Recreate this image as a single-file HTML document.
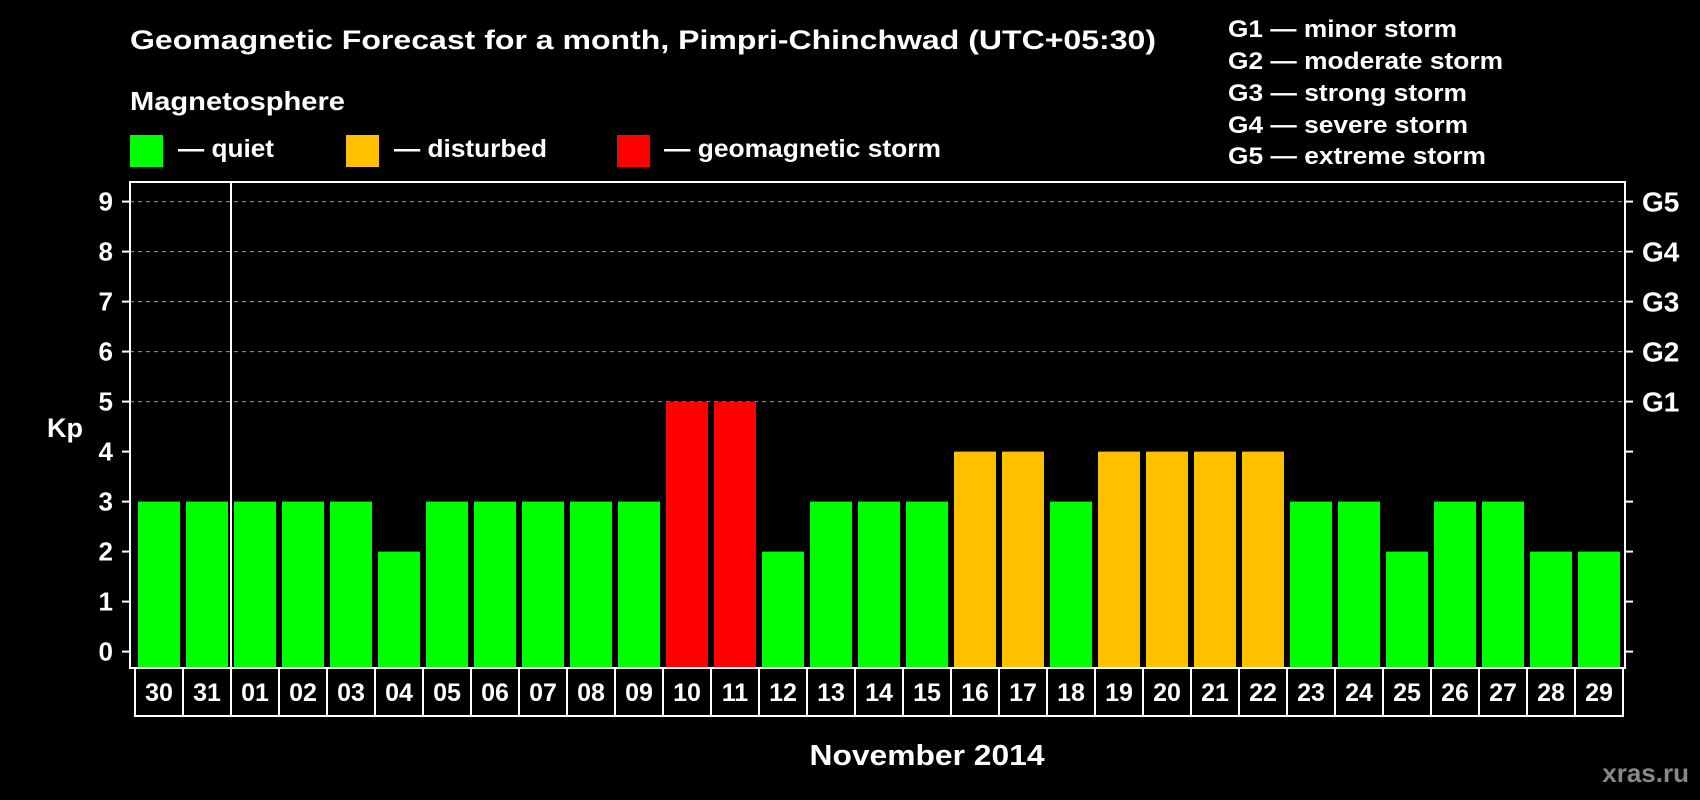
<!DOCTYPE html>
<html><head><meta charset="utf-8"><style>
html,body{margin:0;padding:0;background:#000;}
svg{display:block;font-family:"Liberation Sans",Arial,sans-serif;font-weight:bold;}
</style></head><body>
<svg id="chart" width="1700" height="800" viewBox="0 0 1700 800">
<rect x="0" y="0" width="1700" height="800" fill="#000"/>
<text x="130" y="49" font-size="27" fill="#fff" textLength="1026" lengthAdjust="spacingAndGlyphs">Geomagnetic Forecast for a month, Pimpri-Chinchwad (UTC+05:30)</text>
<text x="130" y="110" font-size="26" fill="#fff" textLength="215" lengthAdjust="spacingAndGlyphs">Magnetosphere</text>
<g>
<rect x="130" y="135" width="33" height="32" fill="#00ff00"/>
<text x="178" y="157" font-size="25" fill="#fff" textLength="96" lengthAdjust="spacingAndGlyphs">— quiet</text>
<rect x="346" y="135" width="33" height="32" fill="#ffc000"/>
<text x="394" y="157" font-size="25" fill="#fff" textLength="153" lengthAdjust="spacingAndGlyphs">— disturbed</text>
<rect x="617" y="135" width="33" height="32" fill="#ff0000"/>
<text x="664" y="157" font-size="25" fill="#fff" textLength="277" lengthAdjust="spacingAndGlyphs">— geomagnetic storm</text>
</g>
<g font-size="24" fill="#fff">
<text x="1228" y="37" textLength="229" lengthAdjust="spacingAndGlyphs">G1 — minor storm</text>
<text x="1228" y="69" textLength="275" lengthAdjust="spacingAndGlyphs">G2 — moderate storm</text>
<text x="1228" y="101" textLength="239" lengthAdjust="spacingAndGlyphs">G3 — strong storm</text>
<text x="1228" y="133" textLength="240" lengthAdjust="spacingAndGlyphs">G4 — severe storm</text>
<text x="1228" y="164" textLength="258" lengthAdjust="spacingAndGlyphs">G5 — extreme storm</text>
</g>
<g id="plot"></g>
<text x="65" y="437" font-size="27" fill="#fff" text-anchor="middle">Kp</text>
<text x="927" y="765" font-size="29" fill="#fff" text-anchor="middle" textLength="235" lengthAdjust="spacingAndGlyphs">November 2014</text>
<text x="1689" y="782" font-size="26" fill="#888" text-anchor="end">xras.ru</text>
</svg>
<script>
const days = ["30","31","01","02","03","04","05","06","07","08","09","10","11","12","13","14","15","16","17","18","19","20","21","22","23","24","25","26","27","28","29"];
const kpValues = [3,3,3,3,3,2,3,3,3,3,3,5,5,2,3,3,3,4,4,3,4,4,4,4,3,3,2,3,3,2,2];
const yTicks = [0,1,2,3,4,5,6,7,8,9];
const gLabels = ["G1","G2","G3","G4","G5"];
const gLevels = [5,6,7,8,9];

const NS = "http://www.w3.org/2000/svg";
const plot = document.getElementById("plot");
const frameL = 130, frameR = 1625, frameT = 182, frameB = 668;
const slot0 = 134, pitch = 48, barW = 42;
function yScale(v){ return 651.6 - v*50; }
function xSlot(i){ return slot0 + i*pitch; }
function colorFor(v){ return v >= 5 ? "#ff0000" : (v >= 4 ? "#ffc000" : "#00ff00"); }
function mk(tag, attrs){ const e = document.createElementNS(NS, tag); for (const k in attrs) e.setAttribute(k, attrs[k]); plot.appendChild(e); return e; }

// gridlines
gLevels.forEach(function(v){
  const l = mk("line", {x1: frameL, x2: frameR, y1: yScale(v), y2: yScale(v), stroke: "#999", "stroke-width": 1, "stroke-dasharray": "4,4"});
  
  
});
// bars
kpValues.forEach(function(v, i){
  const y = yScale(v);
  const r = mk("rect", {x: xSlot(i) + 4, y: y, width: barW, height: frameB - y, fill: colorFor(v)});
  
  
});
// frame
const fr = mk("rect", {x: frameL, y: frameT, width: frameR - frameL, height: frameB - frameT, fill: "none", stroke: "#fff", "stroke-width": 2});


// ticks
yTicks.forEach(function(v){
  const y = yScale(v);
  const a = mk("line", {x1: 122, x2: frameL, y1: y, y2: y, stroke: "#fff", "stroke-width": 2});
  
  
  const b = mk("line", {x1: frameR, x2: 1633, y1: y, y2: y, stroke: "#fff", "stroke-width": 2});
  
  
  const t = mk("text", {x: 113, y: y + 9, "font-size": 26, fill: "#fff", "text-anchor": "end"});
  t.textContent = String(v);
  
  
});
gLabels.forEach(function(g, i){
  const t = mk("text", {x: 1642, y: yScale(gLevels[i]) + 10, "font-size": 28, fill: "#fff"});
  t.textContent = g;
  
  
});
// day label boxes
days.forEach(function(d, i){
  const r = mk("rect", {x: xSlot(i) + 1, y: frameB, width: pitch, height: 48, fill: "none", stroke: "#fff", "stroke-width": 2});
  
  
  const t = mk("text", {x: xSlot(i) + 1 + pitch/2, y: 701, "font-size": 25, fill: "#fff", "text-anchor": "middle"});
  t.textContent = d;
  
  
});
// month separator
const sepIdx = days.indexOf("01");
const sep = mk("line", {x1: xSlot(sepIdx) + 1, x2: xSlot(sepIdx) + 1, y1: frameT, y2: frameB + 48, stroke: "#fff", "stroke-width": 2});


</script>
</body></html>
